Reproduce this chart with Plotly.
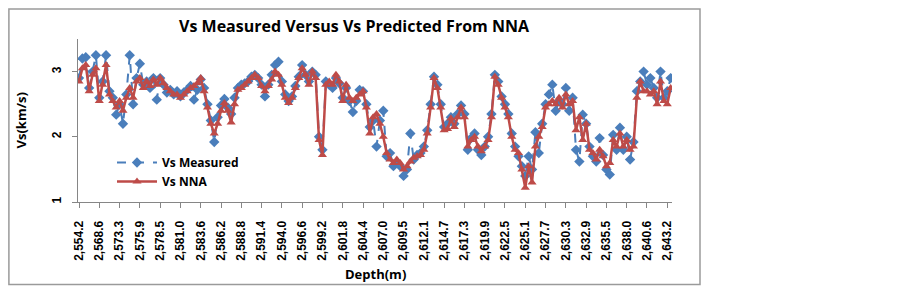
import plotly.graph_objects as go

depth_labels = ["2,554.2", "2,568.6", "2,573.3", "2,575.9", "2,578.5", "2,581.0", "2,583.6",
                "2,586.2", "2,588.8", "2,591.4", "2,594.0", "2,596.6", "2,599.2", "2,601.8",
                "2,604.4", "2,607.0", "2,609.5", "2,612.1", "2,614.7", "2,617.3", "2,619.9",
                "2,622.5", "2,625.1", "2,627.7", "2,630.3", "2,632.9", "2,635.5", "2,638.0",
                "2,640.6", "2,643.2"]
samples_per_label = 6

vs_measured = [
    2.9, 3.2, 3.22, 2.75, 3.0, 3.25, 2.6, 2.85, 3.25, 2.7,
    2.6, 2.34, 2.5, 2.2, 2.65, 3.25, 2.5, 2.9, 3.12, 2.8,
    2.85, 2.75, 2.9, 2.57, 2.9, 2.8, 2.68, 2.72, 2.65, 2.7,
    2.62, 2.68, 2.72, 2.78, 2.57, 2.72, 2.88, 2.75, 2.5, 2.25,
    1.92, 2.3, 2.48, 2.58, 2.45, 2.35, 2.6, 2.75, 2.8, 2.82,
    2.85, 2.92, 2.95, 2.9, 2.8, 2.62, 2.8, 2.95, 3.1, 3.15,
    2.85, 2.65, 2.55, 2.62, 2.78, 2.92, 3.1, 2.95, 2.85, 3.0,
    2.95, 2.0, 1.8, 2.85, 2.8, 2.75, 2.9, 2.82, 2.6, 2.75,
    2.55, 2.38, 2.55, 2.72, 2.7, 2.5, 2.15, 2.25, 1.85, 2.25,
    2.4, 1.7, 1.75, 1.55, 1.6, 1.55, 1.4, 1.5, 2.05, 1.65,
    1.72, 1.75, 1.85, 2.1, 2.5, 2.92, 2.8, 2.5, 2.15, 2.2,
    2.3, 2.2, 2.35, 2.48, 2.35, 1.8, 1.98, 2.05, 1.8, 1.72,
    1.85, 2.0, 2.35, 2.95, 2.85, 2.62, 2.5, 2.35, 2.05, 1.85,
    1.7, 1.55, 1.4, 1.7, 1.5, 2.07, 1.75, 2.2, 2.5, 2.65,
    2.8, 2.4, 2.55, 2.5, 2.75, 2.4, 2.6, 1.8, 1.62, 2.34,
    2.2, 1.85, 1.7, 1.62, 1.98, 1.72, 1.5, 1.42, 2.03, 1.8,
    2.14, 1.8, 2.0, 1.65, 1.92, 2.7, 2.85, 3.0, 2.8, 2.9,
    2.75, 2.6, 3.0, 2.6, 2.7, 2.9,
]

vs_nna = [
    2.85, 3.05, 3.1, 2.7, 2.95, 3.05, 2.55, 2.8, 3.1, 2.65,
    2.55, 2.45, 2.55, 2.4, 2.6, 2.75, 2.6, 2.85, 2.9, 2.75,
    2.85, 2.78, 2.88, 2.8, 2.9, 2.82, 2.75, 2.7, 2.65, 2.65,
    2.6, 2.65, 2.7, 2.75, 2.78, 2.82, 2.9, 2.7, 2.45, 2.2,
    2.05, 2.2, 2.4, 2.52, 2.4, 2.22, 2.5, 2.72, 2.75, 2.8,
    2.85, 2.9, 2.95, 2.9, 2.78, 2.7, 2.78, 2.88, 3.0, 2.95,
    2.8, 2.6, 2.52, 2.6, 2.75, 2.9, 3.05, 2.95, 2.8, 3.0,
    2.9, 1.95, 1.72, 2.8, 2.85, 2.8, 2.95, 2.85, 2.55, 2.8,
    2.6, 2.55, 2.6, 2.65, 2.7, 2.45, 2.05, 2.3, 2.35, 2.2,
    2.0, 1.75, 1.65, 1.6, 1.65, 1.6, 1.5, 1.55, 1.62, 1.68,
    1.7, 1.72, 1.8, 2.05, 2.45, 2.9, 2.75, 2.45, 2.1, 2.12,
    2.28, 2.15, 2.3, 2.45, 2.3, 1.85, 1.95, 2.0, 1.85, 1.78,
    1.85, 1.95, 2.3, 2.92, 2.8, 2.6, 2.45, 2.3, 2.0, 1.8,
    1.75, 1.5, 1.22, 1.55, 1.3, 1.85, 2.0, 2.15, 2.45, 2.5,
    2.55, 2.5, 2.6, 2.45, 2.65, 2.5, 2.55, 2.1, 2.3, 1.95,
    2.2, 1.8, 1.75, 1.65, 1.8, 1.7, 1.55, 1.6, 1.95, 1.85,
    2.05, 1.85, 1.95, 1.8, 1.85, 2.6, 2.85, 2.7, 2.7, 2.65,
    2.7, 2.5, 2.85, 2.55, 2.5, 2.75,
]

idx = list(range(len(vs_measured)))
tickvals = [i * samples_per_label for i in range(len(depth_labels))]

blue = "#4A7EBB"
red = "#BE4B48"
axis_col = "#868686"
font_fam = "Liberation Sans, Arial, sans-serif"
title_fam = "Open Sans, sans-serif"

# page body has an 8px margin, so the figure starts at (8, 8)
OFF = 8
W, H = 903 - OFF, 288 - OFF
PL, PT, PW, PH = 78 - OFF, 39 - OFF, 594, 163  # plot area in figure pixels


def px_x(x):
    return (x - OFF - PL) / PW


def px_y(y):
    return (PT + PH - (y - OFF)) / PH


fig = go.Figure()
fig.add_trace(go.Scatter(
    x=idx, y=vs_measured, name="Vs Measured", mode="lines+markers",
    line=dict(color=blue, width=2, dash="dash"),
    marker=dict(symbol="diamond", size=8, color=blue),
))
fig.add_trace(go.Scatter(
    x=idx, y=vs_nna, name="Vs NNA", mode="lines+markers",
    line=dict(color=red, width=2.5),
    marker=dict(symbol="triangle-up", size=8, color=red),
))

fig.update_layout(
    width=W, height=H,
    margin=dict(l=PL, r=W - PL - PW, t=PT, b=H - PT - PH, autoexpand=False),
    paper_bgcolor="white", plot_bgcolor="white",
    font=dict(family=font_fam, color="black"),
    showlegend=True,
    legend=dict(x=px_x(112), y=px_y(148), xanchor="left", yanchor="top",
                bgcolor="rgba(0,0,0,0)",
                font=dict(size=12, family=title_fam, weight="bold"),
                tracegroupgap=0, itemwidth=40),
    title=dict(text="<b>Vs Measured Versus Vs Predicted From NNA</b>",
               x=(354 - OFF) / W, xref="container", xanchor="center",
               y=1 - (26 - OFF) / H, yref="container", yanchor="middle",
               font=dict(size=16, family=title_fam, color="black")),
    xaxis=dict(range=[-0.3, 175.4], tickmode="array", tickvals=tickvals, ticktext=depth_labels,
               tickangle=-90, tickfont=dict(size=12, family=font_fam, weight="bold"),
               showgrid=False, zeroline=False, showline=True, linecolor=axis_col, linewidth=1,
               ticks="outside", ticklen=5, tickcolor=axis_col, ticklabelstandoff=8,
               automargin=False),
    yaxis=dict(range=[1, 3.5], tickvals=[1, 2, 3], ticktext=["1", "2", "3"],
               tickangle=-90, tickfont=dict(size=12, family=font_fam, weight="bold"),
               showgrid=False, zeroline=False, showline=True, linecolor=axis_col, linewidth=1,
               ticks="outside", ticklen=5, tickcolor=axis_col, ticklabelstandoff=6,
               automargin=False),
    annotations=[
        dict(text="<b>Depth(m)</b>", x=px_x(375), y=px_y(274), xref="paper", yref="paper",
             xanchor="center", yanchor="middle",
             showarrow=False, font=dict(size=13, family=title_fam)),
        dict(text="<b>Vs(km/s)</b>", x=px_x(20), y=0.5, xref="paper", yref="paper",
             xanchor="center", yanchor="middle", textangle=-90,
             showarrow=False, font=dict(size=13, family=title_fam)),
    ],
    shapes=[dict(type="rect", xref="paper", yref="paper",
                 x0=px_x(8.9), x1=px_x(700),
                 y0=px_y(284.5), y1=px_y(8.9),
                 line=dict(color="#9A9A9A", width=1.5), fillcolor="rgba(0,0,0,0)", layer="below")],
)

fig.write_html("out.html")
